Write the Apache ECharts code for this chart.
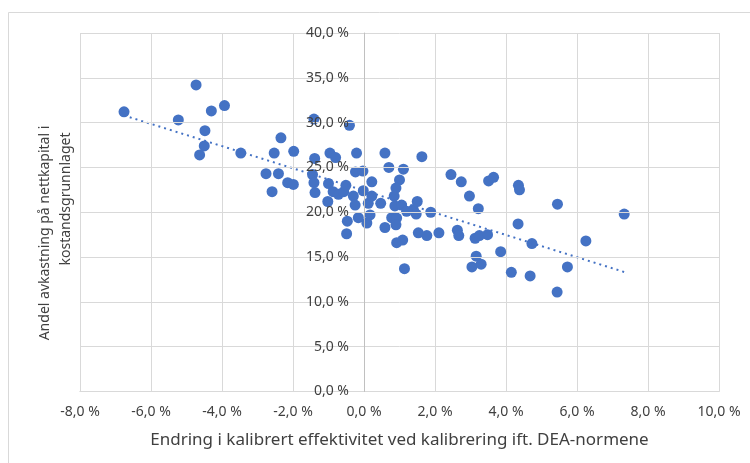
<!DOCTYPE html>
<html>
<head>
<meta charset="utf-8">
<script src="https://cdn.jsdelivr.net/npm/echarts@6/dist/echarts.min.js"></script>
<style>
  html, body { margin: 0; padding: 0; background: #ffffff; }
  #chart { width: 750px; height: 463px; }
</style>
</head>
<body>
<div id="chart"></div>
<script>
// Change in calibrated efficiency (%) vs share of return on net capital (%)
const effChange = [
  -6.76, -5.23, -4.73, -4.30, -3.93, -4.48, -4.50, -4.63, -3.47, -2.53,
  -1.98, -2.34, -2.76, -2.41, -2.59, -2.15, -1.99, -1.41, -0.41, -1.39,
  -0.96, -0.80, -1.45, -1.41, -1.38, -1.02, -1.00, -0.87, -0.72, -0.57,
  -0.51, -0.47, -0.49, -0.30, -0.25, -0.21, -0.24, -0.03, -0.16, 0.08,
  0.17, 0.12, 0.22, 0.22, -0.02, 0.47, 0.59, 0.70, 1.63, 1.11,
  1.00, 0.90, 0.85, 0.87, 1.06, 1.20, 1.39, 1.50, 1.47, 1.88,
  0.78, 0.92, 0.90, 0.59, 1.53, 1.77, 2.11, 2.63, 2.67, 3.13,
  3.25, 3.48, 0.92, 1.09, 2.45, 2.74, 2.97, 3.22, 3.51, 3.65,
  3.16, 3.04, 3.30, 1.14, 4.35, 4.38, 5.45, 7.33, 4.34, 4.73,
  6.25, 3.85, 4.15, 4.68, 5.73, 5.44
];
const returnShare = [
  31.2, 30.3, 34.2, 31.3, 31.9, 29.1, 27.4, 26.4, 26.6, 26.6,
  26.8, 28.3, 24.3, 24.3, 22.3, 23.3, 23.1, 30.4, 29.7, 26.0,
  26.6, 26.1, 24.2, 23.3, 22.2, 21.2, 23.2, 22.3, 22.0, 22.3,
  23.0, 19.0, 17.6, 21.8, 20.8, 26.6, 24.5, 24.6, 19.4, 18.8,
  19.7, 21.0, 21.8, 23.4, 22.4, 21.0, 26.6, 25.0, 26.2, 24.8,
  23.6, 22.7, 21.8, 20.7, 20.8, 20.1, 20.3, 21.2, 19.8, 20.0,
  19.4, 19.35, 18.6, 18.3, 17.7, 17.4, 17.7, 18.0, 17.4, 17.1,
  17.4, 17.5, 16.6, 16.9, 24.2, 23.4, 21.8, 20.4, 23.5, 23.9,
  15.1, 13.9, 14.2, 13.7, 23.0, 22.5, 20.9, 19.8, 18.7, 16.5,
  16.8, 15.6, 13.3, 12.9, 13.9, 11.1
];

// Linear trendline end points
const trendX = [-6.76, 7.36];
const trendY = [30.8, 13.3];

// Axis tick labels
const xTickValues = [-8, -6, -4, -2, 0, 2, 4, 6, 8, 10];
const xTickLabels = ['-8,0 %', '-6,0 %', '-4,0 %', '-2,0 %', '0,0 %', '2,0 %', '4,0 %', '6,0 %', '8,0 %', '10,0 %'];
const yTickValues = [0, 5, 10, 15, 20, 25, 30, 35, 40];
const yTickLabels = ['0,0 %', '5,0 %', '10,0 %', '15,0 %', '20,0 %', '25,0 %', '30,0 %', '35,0 %', '40,0 %'];

const xTitle = 'Endring i kalibrert effektivitet ved kalibrering ift. DEA-normene';
const yTitleLines = ['Andel avkastning på nettkapital i', 'kostandsgrunnlaget'];

const FONT = '"Noto Sans", "Open Sans", sans-serif';
const TEXT = '#404040';
const BLUE = '#4472C4';

const points = effChange.map((x, i) => [x, returnShare[i]]);
const trend = trendX.map((x, i) => [x, trendY[i]]);

const lookup = (vals, labels) => v => {
  const i = vals.findIndex(t => Math.abs(t - v) < 1e-9);
  return i >= 0 ? labels[i] : '';
};

const chart = echarts.init(document.getElementById('chart'), null, { renderer: 'canvas' });
chart.setOption({
  animation: false,
  backgroundColor: '#ffffff',
  grid: { left: 80, right: 31, top: 33, bottom: 71.5, containLabel: false },
  xAxis: {
    type: 'value', min: -8, max: 10, interval: 2,
    name: xTitle, nameLocation: 'middle', nameGap: 40,
    nameTextStyle: { fontFamily: FONT, fontSize: 17, color: TEXT },
    axisLine: { show: true, lineStyle: { color: '#c8c8c8', width: 1 } },
    axisTick: { show: false },
    axisLabel: { formatter: lookup(xTickValues, xTickLabels), fontFamily: FONT, fontSize: 14, color: TEXT, margin: 14 },
    splitLine: { show: true, lineStyle: { color: '#d9d9d9', width: 1 } }
  },
  yAxis: {
    type: 'value', min: 0, max: 40, interval: 5, position: 'left', offset: 0, z: 5,
    axisLine: { show: true, onZero: false, lineStyle: { color: '#c0c0c0', width: 1 } },
    axisTick: { show: false },
    axisLabel: { formatter: lookup(yTickValues, yTickLabels), fontFamily: FONT, fontSize: 14, color: TEXT, margin: 15 },
    splitLine: { show: true, lineStyle: { color: '#d9d9d9', width: 1 } }
  },
  graphic: [
    {
      type: 'rect', silent: true, z: -10,
      shape: { x: 8.5, y: 12.5, width: 800, height: 500 },
      style: { fill: 'none', stroke: '#d9d9d9', lineWidth: 1 }
    },
    {
      type: 'text', x: 45, y: 233, rotation: Math.PI / 2, silent: true,
      style: { text: yTitleLines[0], font: '14px ' + FONT, fill: TEXT, textAlign: 'center', textVerticalAlign: 'middle' }
    },
    {
      type: 'text', x: 66, y: 199, rotation: Math.PI / 2, silent: true,
      style: { text: yTitleLines[1], font: '14px ' + FONT, fill: TEXT, textAlign: 'center', textVerticalAlign: 'middle' }
    }
  ],
  series: [
    {
      type: 'scatter', data: points, symbol: 'circle', symbolSize: 11,
      itemStyle: { color: BLUE, opacity: 1 }, z: 3
    },
    {
      type: 'line', data: trend, symbol: 'none', z: 4,
      lineStyle: { color: BLUE, width: 2, type: [2, 4] }
    }
  ]
});

// The vertical axis (line and labels) sits where the horizontal value is zero.
const leftEdge = chart.convertToPixel({ gridIndex: 0 }, [-8, 0])[0];
const zeroX = chart.convertToPixel({ gridIndex: 0 }, [0, 0])[0];
chart.setOption({ yAxis: { offset: -(zeroX - leftEdge) } });
</script>
</body>
</html>
